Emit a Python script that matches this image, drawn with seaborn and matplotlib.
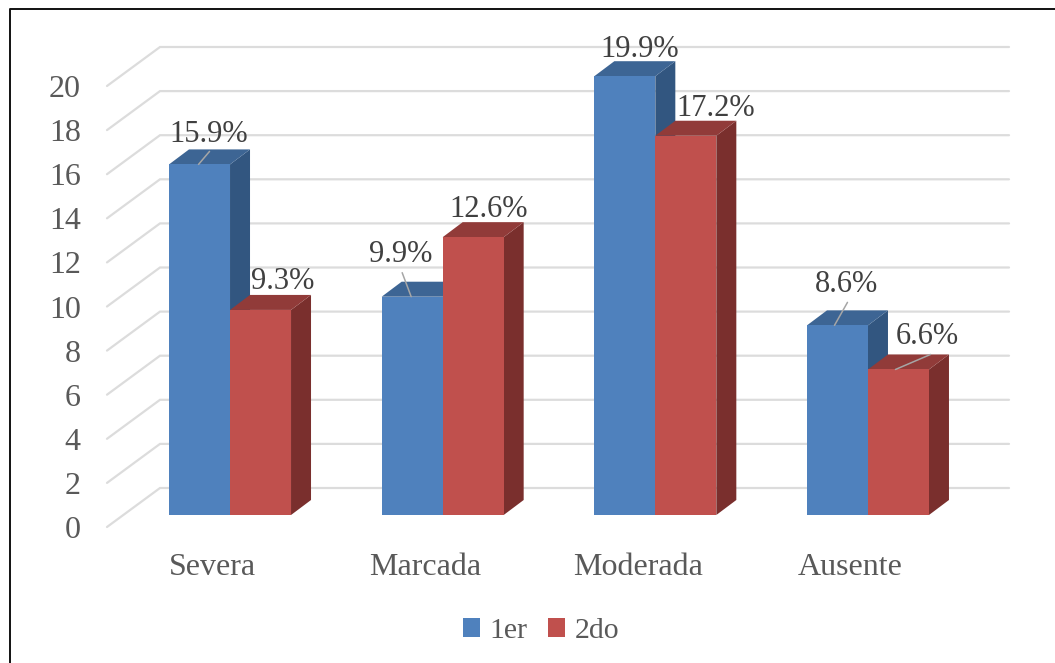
import matplotlib
matplotlib.use("Agg")
import matplotlib.pyplot as plt
import pandas as pd
import seaborn as sns
from matplotlib.lines import Line2D
from matplotlib.patches import Patch, Polygon
from matplotlib.transforms import Affine2D, IdentityTransform, ScaledTranslation

categories = ["Severa", "Marcada", "Moderada", "Ausente"]
serie_1er = [15.9, 9.9, 19.9, 8.6]
serie_2do = [9.3, 12.6, 17.2, 6.6]
serie_names = ["1er", "2do"]
y_ticks = list(range(0, 21, 2))

W, H, DPI = 1055, 663, 100
FONT = "Liberation Serif"
COL_FRONT = ["#4F81BD", "#C0504D"]
COL_TOP = ["#3D6594", "#913B39"]
COL_SIDE = ["#325680", "#7A2F2D"]
GRID = "#DCDCDC"

# Pixel layout of the front plane of the bars
PX_LEFT, PX_RIGHT, PX_BASE, PX_TOP = 123.7, 974.3, 515.0, 74.0
BAR_DEPTH = (20, 15)
WALL_DEPTH = (53, 27)
WALL_DROP = 12

# Offsets (pixels) from each bar's top centre to its label, plus optional leader ends
label_offsets = [[(9, 30), (22, 28)], [(-11, 42), (15, 28)],
                 [(15, 27), (30, 27)], [(9, 41), (29, 33)]]
leader_ends = [[((-1, 0), (10, 13)), None], [((-1, 0), (-10, 24)), None],
               [None, None], [((-3, 0), (10, 23)), ((-3, 0), (32, 15))]]

sns.set_theme(style="white", rc={"font.family": [FONT, "DejaVu Serif"]})
plt.rcParams["font.family"] = [FONT, "DejaVu Serif"]

fig = plt.figure(figsize=(W / DPI, H / DPI), dpi=DPI, facecolor="white")
ax = fig.add_axes([PX_LEFT / W, 1 - PX_BASE / H,
                   (PX_RIGHT - PX_LEFT) / W, (PX_BASE - PX_TOP) / H])
ax.patch.set_visible(False)

df = pd.DataFrame({
    "categoria": categories * 2,
    "serie": [serie_names[0]] * 4 + [serie_names[1]] * 4,
    "valor": serie_1er + serie_2do,
})
sns.barplot(data=df, x="categoria", y="valor", hue="serie", palette=COL_FRONT,
            width=0.5737, gap=0, legend=False, saturation=1, ax=ax, linewidth=0)
ax.set_xlim(-0.5, 3.5)
ax.set_ylim(0, 20)
ax.set_xlabel("")
ax.set_ylabel("")
ax.set_yticks(y_ticks)
sns.despine(ax=ax, left=True, bottom=True)
ax.tick_params(axis="both", length=0, labelsize=23, labelcolor="#595959")
ax.tick_params(axis="y", pad=31)
ax.tick_params(axis="x", pad=27.5)

# Tick labels sit on the front edge of the floor rather than on the bar plane
for lab in ax.get_yticklabels():
    lab.set_transform(lab.get_transform() + ScaledTranslation(0, -WALL_DROP / DPI, fig.dpi_scale_trans))
for lab in ax.get_xticklabels():
    lab.set_transform(lab.get_transform() + ScaledTranslation(-17.5 / DPI, 0, fig.dpi_scale_trans))

# Back wall gridlines and the slanted side-wall segments
x_per_px = 4 / (PX_RIGHT - PX_LEFT)
wall_x0 = -0.5 - (PX_LEFT - 107) * x_per_px
wall_x1 = wall_x0 + 849 * x_per_px
to_px = ax.transData.transform
for v in y_ticks:
    x0, y0 = to_px((wall_x0, v))
    x1, _ = to_px((wall_x1, v))
    xs = [x0, x0 + WALL_DEPTH[0], x1 + WALL_DEPTH[0]]
    ys = [y0 - WALL_DROP, y0 + WALL_DEPTH[1], y0 + WALL_DEPTH[1]]
    ax.add_line(Line2D(xs, ys, transform=IdentityTransform(), color=GRID, lw=1.6,
                       clip_on=False, zorder=0.5, solid_joinstyle="miter"))

# Extrude every bar: a top face and a right-hand side face behind the front face
n_cat = len(categories)
for i, bar in enumerate(ax.patches):
    s = i // n_cat
    (xl, yb), (xr, yt) = to_px(bar.get_corners()[0]), to_px(bar.get_corners()[2])
    dx, dy = BAR_DEPTH
    top = [(xl, yt), (xr, yt), (xr + dx, yt + dy), (xl + dx, yt + dy)]
    side = [(xr, yb), (xr + dx, yb + dy), (xr + dx, yt + dy), (xr, yt)]
    for pts, col in ((side, COL_SIDE[s]), (top, COL_TOP[s])):
        ax.add_patch(Polygon(pts, closed=True, facecolor=col, edgecolor="none",
                             transform=IdentityTransform(), clip_on=False, zorder=2 + s))
    bar.set_zorder(2.5 + s)

# Value labels and their thin leader lines
for s, values in enumerate((serie_1er, serie_2do)):
    for c, val in enumerate(values):
        bar = ax.patches[s * n_cat + c]
        xc = bar.get_x() + bar.get_width() / 2
        ax.annotate(f"{val:.1f}%", xy=(xc, val), xytext=label_offsets[c][s],
                    textcoords="offset pixels", ha="center", va="center",
                    fontsize=22, color="#404040", zorder=6, annotation_clip=False)
        ends = leader_ends[c][s]
        if ends:
            (ax0, ay0), (ax1, ay1) = ends
            x_a, y_a = to_px((xc, val))
            ax.add_line(Line2D([x_a + ax0, x_a + ax1], [y_a + ay0, y_a + ay1],
                               transform=IdentityTransform(), color="#A6A6A6",
                               lw=1.1, clip_on=False, zorder=5))

handles = [Patch(facecolor=c, edgecolor="none") for c in COL_FRONT]
fig.legend(handles, serie_names, loc="center", bbox_to_anchor=(541 / W, 1 - 631 / H),
           ncol=2, frameon=False, fontsize=21.5, labelcolor="#595959", borderpad=0,
           handlelength=0.57, handleheight=0.57, handletextpad=0.31, columnspacing=0.69)

# Outer border of the chart area: left and top edges only reach the picture
border_x = [9.5 / W, 9.5 / W, 1]
border_y = [0, 1 - 8.5 / H, 1 - 8.5 / H]
fig.add_artist(Line2D(border_x, border_y, transform=fig.transFigure, color="#111111", lw=1.4))

fig.savefig("out.png", dpi=DPI)
